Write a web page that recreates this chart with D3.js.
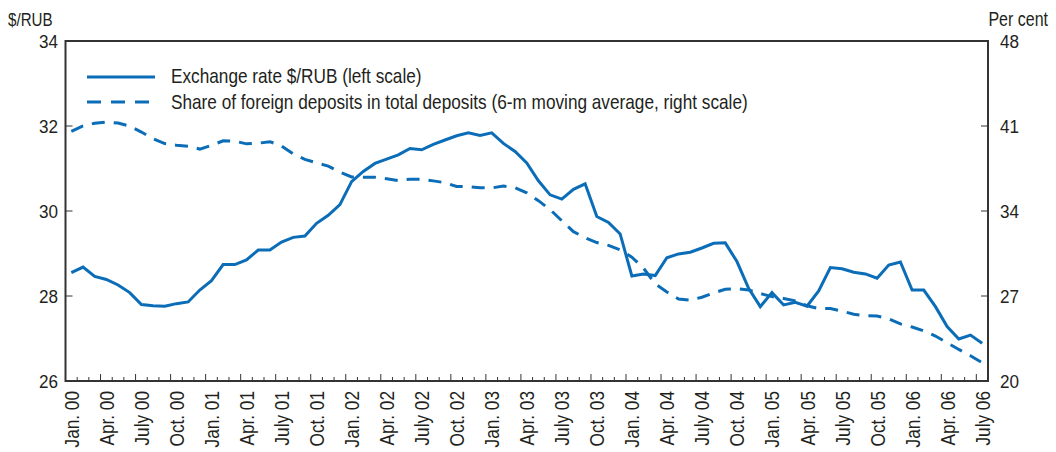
<!DOCTYPE html>
<html><head><meta charset="utf-8">
<script src="https://cdn.jsdelivr.net/npm/d3@7"></script>
<style>body{margin:0;background:#fff}text{font-family:"Liberation Sans",Arial,sans-serif;fill:#231f20}</style>
</head><body>
<svg id="c" width="1056" height="452"></svg>
<script>
const tickLabels = ["Jan. 00","Apr. 00","July 00","Oct. 00","Jan. 01","Apr. 01","July 01","Oct. 01",
  "Jan. 02","Apr. 02","July 02","Oct. 02","Jan. 03","Apr. 03","July 03","Oct. 03",
  "Jan. 04","Apr. 04","July 04","Oct. 04","Jan. 05","Apr. 05","July 05","Oct. 05",
  "Jan. 06","Apr. 06","July 06"];
const exchangeRate = [28.55,28.68,28.46,28.39,28.26,28.08,27.80,27.77,27.76,27.82,27.86,28.14,
  28.36,28.74,28.74,28.85,29.08,29.08,29.27,29.38,29.41,29.71,29.90,30.15,
  30.69,30.93,31.12,31.22,31.32,31.47,31.44,31.57,31.67,31.77,31.84,31.78,
  31.84,31.59,31.40,31.13,30.71,30.38,30.28,30.51,30.64,29.87,29.73,29.46,
  28.47,28.52,28.48,28.90,28.99,29.03,29.13,29.24,29.25,28.81,28.18,27.75,
  28.08,27.79,27.85,27.76,28.12,28.67,28.64,28.56,28.52,28.42,28.73,28.80,
  28.14,28.14,27.75,27.28,26.99,27.08,26.89];
const foreignShare = [40.55,41.0,41.23,41.33,41.24,41.0,40.5,39.95,39.55,39.42,39.34,39.1,
  39.4,39.78,39.75,39.53,39.58,39.71,39.35,38.7,38.25,37.97,37.7,37.2,
  36.8,36.78,36.78,36.65,36.5,36.62,36.62,36.48,36.33,36.02,36.01,35.92,
  35.9,36.05,35.92,35.5,34.85,34.12,33.2,32.3,31.8,31.4,31.17,30.8,
  30.2,29.3,28.0,27.33,26.75,26.65,26.9,27.25,27.55,27.6,27.5,27.2,
  26.95,26.8,26.6,26.2,25.97,25.97,25.75,25.5,25.38,25.35,25.12,24.7,
  24.45,24.12,23.7,23.15,22.6,22.08,21.5];
const leftTicks = [26,28,30,32,34];
const rightTicks = [20,27,34,41,48];
const seriesNames = ["Exchange rate $/RUB (left scale)",
  "Share of foreign deposits in total deposits (6-m moving average, right scale)"];

const svg = d3.select("#c");
const L = 65.5, R = 988, T = 41, B = 381;
const color = "#0b6db7", axisColor = "#333";
const NARROW = 0.82;
const nMonths = exchangeRate.length;
const x = d3.scaleLinear().domain([0, nMonths]).range([L, R]);
const yL = d3.scaleLinear().domain([26, 34]).range([B, T]);
const yR = d3.scaleLinear().domain([20, 48]).range([B, T]);

// month boundary ticks
const bnd = d3.range(1, nMonths);
svg.append("g").selectAll("line").data(bnd).join("line")
  .attr("x1", d => x(d)).attr("x2", d => x(d))
  .attr("y1", B).attr("y2", d => B - (d % 3 === 0 ? 7 : 4))
  .attr("stroke", axisColor).attr("stroke-width", 1);

// left/right ticks
svg.append("g").selectAll("line").data(leftTicks.slice(1, -1)).join("line")
  .attr("x1", L).attr("x2", L + 7).attr("y1", d => yL(d)).attr("y2", d => yL(d))
  .attr("stroke", axisColor).attr("stroke-width", 1);
svg.append("g").selectAll("line").data(rightTicks.slice(1, -1)).join("line")
  .attr("x1", R - 7).attr("x2", R).attr("y1", d => yR(d)).attr("y2", d => yR(d))
  .attr("stroke", axisColor).attr("stroke-width", 1);

// frame
svg.append("rect").attr("x", L).attr("y", T).attr("width", R - L).attr("height", B - T)
  .attr("fill", "none").attr("stroke", axisColor).attr("stroke-width", 2);

// tick labels (narrowed to imitate a condensed face)
svg.append("g").selectAll("text").data(leftTicks).join("text")
  .attr("transform", d => `translate(58,${yL(d)}) scale(0.9,1)`)
  .attr("dy", "0.36em").attr("text-anchor", "end")
  .attr("font-size", 19).text(d => d);
svg.append("g").selectAll("text").data(rightTicks).join("text")
  .attr("transform", d => `translate(1000,${yR(d)}) scale(0.9,1)`)
  .attr("dy", "0.36em").attr("text-anchor", "start")
  .attr("font-size", 19).text(d => d);
svg.append("text").attr("transform", `translate(8,26) scale(${NARROW},1)`)
  .attr("font-size", 18.5).text("$/RUB");
svg.append("text").attr("transform", `translate(1048,26) scale(${NARROW},1)`)
  .attr("text-anchor", "end").attr("font-size", 19.5).text("Per cent");

svg.append("g").selectAll("text").data(tickLabels).join("text")
  .attr("transform", (d, i) => `translate(${x(i * 3 + 0.5) + 7.5},391) rotate(-90) scale(${NARROW},1)`)
  .attr("text-anchor", "end").attr("font-size", 21).text(d => d);

// lines
const lineL = d3.line().x((d, i) => x(i + 0.5)).y(d => yL(d));
const lineR = d3.line().x((d, i) => x(i + 0.5)).y(d => yR(d));
svg.append("path").datum(foreignShare).attr("d", lineR).attr("fill", "none")
  .attr("stroke", color).attr("stroke-width", 3).attr("stroke-dasharray", "13,9");
svg.append("path").datum(exchangeRate).attr("d", lineL).attr("fill", "none")
  .attr("stroke", color).attr("stroke-width", 3);

// legend
const lg = svg.append("g");
lg.append("line").attr("x1", 87).attr("x2", 155).attr("y1", 77).attr("y2", 77)
  .attr("stroke", color).attr("stroke-width", 3);
lg.append("line").attr("x1", 87).attr("x2", 155).attr("y1", 102).attr("y2", 102)
  .attr("stroke", color).attr("stroke-width", 3).attr("stroke-dasharray", "14,10");
lg.selectAll("text").data(seriesNames).join("text")
  .attr("transform", (d, i) => `translate(171,${83 + i * 25.5}) scale(${NARROW},1)`)
  .attr("font-size", 21).text(d => d);
</script>
</body></html>
